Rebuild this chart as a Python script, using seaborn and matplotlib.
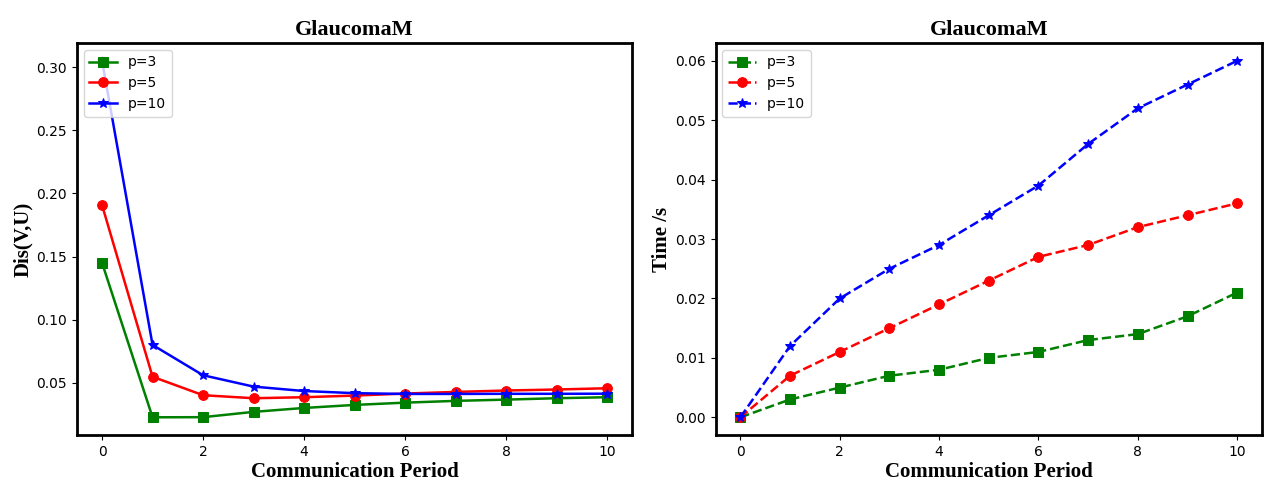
import matplotlib
matplotlib.use('Agg')
import matplotlib.pyplot as plt
import seaborn as sns
import pandas as pd

# --- データ ---
periods = [0, 1, 2, 3, 4, 5, 6, 7, 8, 9, 10]
series_names = ['p=3', 'p=5', 'p=10']

dis_p3 = [0.145, 0.0227, 0.0228, 0.027, 0.0301, 0.0325, 0.0343, 0.0357, 0.0367, 0.0378, 0.0386]
dis_p5 = [0.1907, 0.0548, 0.0402, 0.0378, 0.0386, 0.0399, 0.0415, 0.0428, 0.0439, 0.0447, 0.0457]
dis_p10 = [0.305, 0.080, 0.056, 0.047, 0.0435, 0.0418, 0.0412, 0.0412, 0.0413, 0.0413, 0.0414]

time_p3 = [0.0, 0.003, 0.005, 0.007, 0.008, 0.010, 0.011, 0.013, 0.014, 0.017, 0.021]
time_p5 = [0.0, 0.007, 0.011, 0.015, 0.019, 0.023, 0.027, 0.029, 0.032, 0.034, 0.036]
time_p10 = [0.0, 0.012, 0.020, 0.025, 0.029, 0.034, 0.039, 0.046, 0.052, 0.056, 0.060]

colors = ['green', 'red', 'blue']
markers = ['s', 'o', '*']

serif = ['Liberation Serif', 'DejaVu Serif']

fig = plt.figure(figsize=(12.8, 4.99), dpi=100)
ax1 = fig.add_axes([0.060, 0.128, 0.434, 0.786])
ax2 = fig.add_axes([0.559, 0.128, 0.427, 0.786])

panels = [
    (ax1, [dis_p3, dis_p5, dis_p10], '-', 'Dis(V,U)'),
    (ax2, [time_p3, time_p5, time_p10], '--', 'Time /s'),
]

for ax, values, ls, ylabel in panels:
    for name, vals, c, m in zip(series_names, values, colors, markers):
        df = pd.DataFrame({'period': periods, 'value': vals})
        sns.lineplot(data=df, x='period', y='value', ax=ax, color=c,
                     marker=m, markersize=7, markeredgecolor=c,
                     linestyle=ls, linewidth=1.8, label=name)
    ax.set_title('GlaucomaM', fontsize=16, fontweight='bold', family=serif)
    ax.set_xlabel('Communication Period', fontsize=15, fontweight='bold',
                  family=serif, labelpad=2)
    ax.set_ylabel(ylabel, fontsize=15, fontweight='bold', family=serif, labelpad=2)
    ax.set_xticks([0, 2, 4, 6, 8, 10])
    ax.legend(loc='upper left', fontsize=10)
    for sp in ax.spines.values():
        sp.set_linewidth(2)

fig.savefig('out.png', dpi=100)
